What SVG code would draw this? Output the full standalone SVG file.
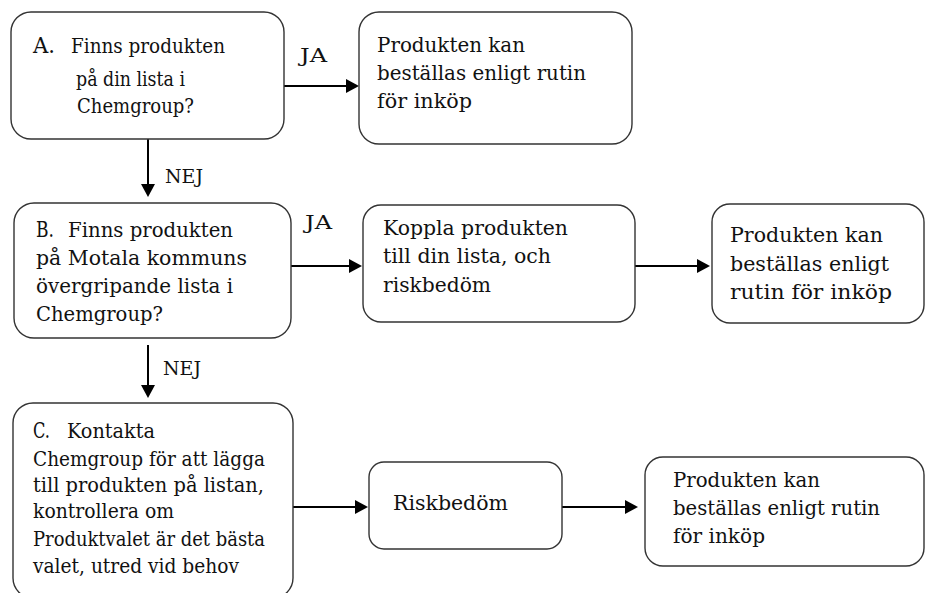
<svg xmlns="http://www.w3.org/2000/svg" width="927" height="593" viewBox="0 0 927 593">
<defs>
<style>
.box{fill:#fff;stroke:#333;stroke-width:1.4}
.c{stroke:#000;stroke-width:2;fill:none;marker-end:url(#ah)}
</style>
<marker id="ah" markerUnits="userSpaceOnUse" markerWidth="13" markerHeight="14" viewBox="0 0 13 14" refX="5" refY="7" orient="auto">
<path d="M0,0 L13,7 L0,14 z" fill="#000"/>
</marker>
</defs>
<rect width="927" height="593" fill="#fff"/>

<g font-family="DejaVu Serif, serif" font-size="20" fill="#111">
<g id="connectors">
<line class="c" x1="284" y1="86" x2="351" y2="86"/>
<line class="c" x1="148" y1="139" x2="148" y2="189"/>
<line class="c" x1="284" y1="266" x2="354" y2="266"/>
<line class="c" x1="632" y1="266" x2="702" y2="266"/>
<line class="c" x1="148" y1="345" x2="148" y2="390"/>
<line class="c" x1="293" y1="507" x2="360" y2="507"/>
<line class="c" x1="559" y1="507" x2="630" y2="507"/>
<text font-size="19" x="300" y="62" textLength="27" lengthAdjust="spacingAndGlyphs">JA</text>
<text font-size="19" x="165" y="183" textLength="38" lengthAdjust="spacingAndGlyphs">NEJ</text>
<text font-size="19" x="305" y="229" textLength="27" lengthAdjust="spacingAndGlyphs">JA</text>
<text font-size="19" x="163" y="375" textLength="38" lengthAdjust="spacingAndGlyphs">NEJ</text>
</g>

<g id="nodeA">
<rect class="box" x="11" y="12" width="273" height="127" rx="20"/>
<text font-size="22" x="33" y="53" textLength="22" lengthAdjust="spacingAndGlyphs">A.</text>
<text x="71" y="53" textLength="154" lengthAdjust="spacingAndGlyphs">Finns produkten</text>
<text x="76" y="86" textLength="109" lengthAdjust="spacingAndGlyphs">på din lista i</text>
<text x="77" y="113" textLength="117" lengthAdjust="spacingAndGlyphs">Chemgroup?</text>
</g>

<g id="nodeA2">
<rect class="box" x="359" y="12" width="273" height="132" rx="20"/>
<text x="377" y="52" textLength="148" lengthAdjust="spacingAndGlyphs">Produkten kan</text>
<text x="377" y="80" textLength="209" lengthAdjust="spacingAndGlyphs">beställas enligt rutin</text>
<text x="377" y="108" textLength="95" lengthAdjust="spacingAndGlyphs">för inköp</text>
</g>

<g id="nodeB">
<rect class="box" x="14" y="203" width="277" height="135" rx="20"/>
<text font-size="22" x="36" y="237" textLength="18" lengthAdjust="spacingAndGlyphs">B.</text>
<text x="68" y="237" textLength="165" lengthAdjust="spacingAndGlyphs">Finns produkten</text>
<text x="36" y="265" textLength="211" lengthAdjust="spacingAndGlyphs">på Motala kommuns</text>
<text x="36" y="293" textLength="197" lengthAdjust="spacingAndGlyphs">övergripande lista i</text>
<text x="36" y="321" textLength="127" lengthAdjust="spacingAndGlyphs">Chemgroup?</text>
</g>

<g id="nodeB2">
<rect class="box" x="363" y="205" width="272" height="117" rx="18"/>
<text x="383" y="235" textLength="185" lengthAdjust="spacingAndGlyphs">Koppla produkten</text>
<text x="383" y="263" textLength="168" lengthAdjust="spacingAndGlyphs">till din lista, och</text>
<text x="383" y="292" textLength="108" lengthAdjust="spacingAndGlyphs">riskbedöm</text>
</g>

<g id="nodeB3">
<rect class="box" x="712" y="204" width="212" height="119" rx="18"/>
<text x="730" y="242" textLength="153" lengthAdjust="spacingAndGlyphs">Produkten kan</text>
<text x="730" y="271" textLength="159" lengthAdjust="spacingAndGlyphs">beställas enligt</text>
<text x="730" y="299" textLength="162" lengthAdjust="spacingAndGlyphs">rutin för inköp</text>
</g>

<g id="nodeC">
<rect class="box" x="13" y="403" width="280" height="195" rx="20"/>
<text font-size="22" x="33" y="438" textLength="17" lengthAdjust="spacingAndGlyphs">C.</text>
<text x="67" y="438" textLength="88" lengthAdjust="spacingAndGlyphs">Kontakta</text>
<text x="33" y="466" textLength="232" lengthAdjust="spacingAndGlyphs">Chemgroup för att lägga</text>
<text x="33" y="492" textLength="231" lengthAdjust="spacingAndGlyphs">till produkten på listan,</text>
<text x="33" y="518" textLength="141" lengthAdjust="spacingAndGlyphs">kontrollera om</text>
<text x="33" y="546" textLength="232" lengthAdjust="spacingAndGlyphs">Produktvalet är det bästa</text>
<text x="33" y="573" textLength="206" lengthAdjust="spacingAndGlyphs">valet, utred vid behov</text>
</g>

<g id="nodeC2">
<rect class="box" x="369" y="462" width="193" height="87" rx="15"/>
<text x="393" y="510" textLength="115" lengthAdjust="spacingAndGlyphs">Riskbedöm</text>
</g>

<g id="nodeC3">
<rect class="box" x="645" y="457" width="279" height="109" rx="18"/>
<text x="673" y="487" textLength="147" lengthAdjust="spacingAndGlyphs">Produkten kan</text>
<text x="673" y="515" textLength="207" lengthAdjust="spacingAndGlyphs">beställas enligt rutin</text>
<text x="673" y="543" textLength="92" lengthAdjust="spacingAndGlyphs">för inköp</text>
</g>
</g>
</svg>
